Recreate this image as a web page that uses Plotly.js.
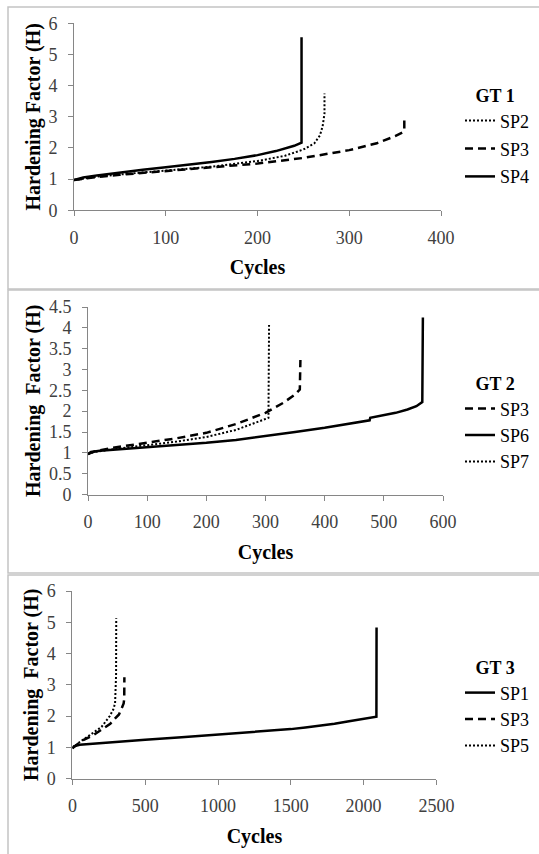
<!DOCTYPE html>
<html>
<head>
<meta charset="utf-8">
<script src="https://cdn.plot.ly/plotly-3.0.1.min.js"></script>
<style>
  html, body { margin: 0; padding: 0; background: #ffffff; }
  #chart { width: 539px; height: 854px; }
</style>
</head>
<body>
<div id="chart"></div>
<script>
// ---------- DATA ----------
// Panel GT 1
const gt1_sp2_cycles = [0, 25, 50, 100, 150, 200, 230, 250, 262, 268, 271, 273, 273];
const gt1_sp2_H      = [0.97, 1.08, 1.15, 1.27, 1.40, 1.58, 1.75, 1.95, 2.15, 2.40, 2.70, 3.10, 3.75];
const gt1_sp3_cycles = [0, 25, 50, 100, 150, 200, 250, 300, 330, 350, 358, 360, 360];
const gt1_sp3_H      = [0.97, 1.07, 1.14, 1.26, 1.37, 1.50, 1.68, 1.93, 2.15, 2.38, 2.50, 2.55, 3.02];
const gt1_sp4_cycles = [0, 10, 25, 50, 75, 100, 125, 150, 175, 200, 220, 240, 248, 248];
const gt1_sp4_H      = [0.97, 1.05, 1.12, 1.22, 1.30, 1.38, 1.46, 1.55, 1.65, 1.77, 1.90, 2.07, 2.17, 5.55];

// Panel GT 2
const gt2_sp3_cycles = [0, 10, 37, 100, 150, 200, 250, 300, 330, 350, 358, 359];
const gt2_sp3_H      = [0.97, 1.03, 1.11, 1.24, 1.35, 1.48, 1.69, 1.96, 2.20, 2.40, 2.52, 3.23];
const gt2_sp6_cycles = [0, 5, 20, 50, 100, 150, 200, 250, 300, 350, 400, 450, 476, 477, 500, 520, 540, 555, 565, 566];
const gt2_sp6_H      = [0.97, 1.02, 1.05, 1.08, 1.13, 1.18, 1.24, 1.31, 1.40, 1.50, 1.60, 1.71, 1.78, 1.84, 1.90, 1.96, 2.04, 2.12, 2.22, 4.25];
const gt2_sp7_cycles = [0, 10, 50, 100, 150, 200, 250, 290, 305, 306];
const gt2_sp7_H      = [0.97, 1.02, 1.10, 1.18, 1.27, 1.38, 1.55, 1.76, 1.84, 4.07];

// Panel GT 3
const gt3_sp1_cycles = [0, 10, 50, 200, 500, 750, 1000, 1250, 1500, 1600, 1700, 1800, 1900, 2000, 2088, 2089];
const gt3_sp1_H      = [0.97, 1.03, 1.08, 1.14, 1.24, 1.32, 1.40, 1.49, 1.58, 1.63, 1.68, 1.75, 1.83, 1.90, 1.98, 4.83];
const gt3_sp3_cycles = [0, 74, 144, 212, 260, 292, 320, 338, 352, 356, 357];
const gt3_sp3_H      = [0.97, 1.23, 1.39, 1.60, 1.75, 1.92, 2.05, 2.24, 2.40, 2.55, 3.24];
const gt3_sp5_cycles = [0, 50, 120, 200, 257, 280, 293, 298, 300, 301];
const gt3_sp5_H      = [0.97, 1.17, 1.39, 1.65, 2.00, 2.20, 2.40, 2.80, 3.30, 5.13];

// Axis tick settings
const gt1_xticks = [0, 100, 200, 300, 400];
const gt2_xticks = [0, 100, 200, 300, 400, 500, 600];
const gt3_xticks = [0, 500, 1000, 1500, 2000, 2500];
const gt1_yticks = [0, 1, 2, 3, 4, 5, 6];
const gt2_yticks = [0, 0.5, 1, 1.5, 2, 2.5, 3, 3.5, 4, 4.5];
const gt3_yticks = [0, 1, 2, 3, 4, 5, 6];

// ---------- STYLE ----------
const FONT = 'Liberation Serif';
const STY = {
  solid:  {dash: 'solid',   width: 2.5},
  dashed: {dash: '8px,5px', width: 2.5},
  dotted: {dash: '2px,2px', width: 2}
};
function tr(x, y, name, style, n, legend) {
  return {
    type: 'scatter', mode: 'lines', x: x, y: y, name: name,
    xaxis: n === 1 ? 'x' : 'x' + n, yaxis: n === 1 ? 'y' : 'y' + n,
    legend: legend, legendgroup: legend + name,
    line: {color: '#000000', width: STY[style].width, dash: STY[style].dash, shape: 'linear'},
    hoverinfo: 'skip'
  };
}

const data = [
  tr(gt1_sp2_cycles, gt1_sp2_H, 'SP2', 'dotted', 1, 'legend'),
  tr(gt1_sp3_cycles, gt1_sp3_H, 'SP3', 'dashed', 1, 'legend'),
  tr(gt1_sp4_cycles, gt1_sp4_H, 'SP4', 'solid', 1, 'legend'),
  tr(gt2_sp3_cycles, gt2_sp3_H, 'SP3', 'dashed', 2, 'legend2'),
  tr(gt2_sp6_cycles, gt2_sp6_H, 'SP6', 'solid', 2, 'legend2'),
  tr(gt2_sp7_cycles, gt2_sp7_H, 'SP7', 'dotted', 2, 'legend2'),
  tr(gt3_sp1_cycles, gt3_sp1_H, 'SP1', 'solid', 3, 'legend3'),
  tr(gt3_sp3_cycles, gt3_sp3_H, 'SP3', 'dashed', 3, 'legend3'),
  tr(gt3_sp5_cycles, gt3_sp5_H, 'SP5', 'dotted', 3, 'legend3')
];

const W = 539, H = 854;
const px = v => v / W;
const py = v => 1 - v / H;

function xAxis(domain, range, ticks, anchor) {
  return {
    domain: domain, range: range, anchor: anchor,
    tickmode: 'array', tickvals: ticks, ticktext: ticks.map(String),
    showline: true, linecolor: '#868686', linewidth: 1,
    ticks: 'outside', ticklen: 5, tickcolor: '#868686', tickwidth: 1,
    showgrid: false, zeroline: false, fixedrange: true,
    ticklabelstandoff: 6,
    tickfont: {family: FONT, size: 18, color: '#404040'},
    title: {text: '<b>Cycles</b>', font: {family: FONT, size: 20, color: '#000000'}, standoff: 13},
    automargin: false
  };
}
function yAxis(domain, range, ticks, anchor, title, standoff) {
  return {
    domain: domain, range: range, anchor: anchor,
    tickmode: 'array', tickvals: ticks, ticktext: ticks.map(String),
    showline: true, linecolor: '#868686', linewidth: 1,
    ticks: 'outside', ticklen: 5, tickcolor: '#868686', tickwidth: 1,
    showgrid: false, zeroline: false, fixedrange: true,
    ticklabelstandoff: 7,
    tickfont: {family: FONT, size: 18, color: '#404040'},
    title: {text: '<b>' + title + '</b>', font: {family: FONT, size: 20, color: '#000000'}, standoff: standoff},
    automargin: false
  };
}
function legendAt(x, y, title, gap) {
  return {
    x: x, y: y, xanchor: 'left', yanchor: 'top', xref: 'paper', yref: 'paper',
    bgcolor: 'rgba(0,0,0,0)', borderwidth: 0,
    traceorder: 'grouped', tracegroupgap: gap,
    font: {family: FONT, size: 18, color: '#000000'},
    title: {text: '<b>\u00a0\u00a0\u00a0' + title + '</b>', side: 'top', font: {family: FONT, size: 18, color: '#000000'}}
  };
}
function panelBox(top, bottom) {
  return {type: 'rect', xref: 'paper', yref: 'paper', x0: px(8), x1: px(560), y0: py(bottom), y1: py(top),
          line: {color: '#c3c3c3', width: 1.5}, fillcolor: 'rgba(0,0,0,0)', layer: 'below'};
}

const layout = {
  width: W, height: H,
  margin: {l: 0, r: 0, t: 0, b: 0, pad: 0},
  paper_bgcolor: '#ffffff', plot_bgcolor: '#ffffff',
  font: {family: FONT, color: '#000000'},
  xaxis:  xAxis([px(74), px(441)], [0, 400], gt1_xticks, 'y'),
  yaxis:  yAxis([py(210.3), py(23.3)], [0, 6], gt1_yticks, 'x', 'Hardening Factor (H)', 2),
  xaxis2: xAxis([px(88), px(443)], [0, 600], gt2_xticks, 'y2'),
  yaxis2: yAxis([py(494.5), py(307)], [0, 4.5], gt2_yticks, 'x2', 'Hardening\u00a0 Factor (H)', 2),
  xaxis3: xAxis([px(72.4), px(436.4)], [0, 2500], gt3_xticks, 'y3'),
  yaxis3: yAxis([py(778.5), py(591)], [0, 6], gt3_yticks, 'x3', 'Hardening\u00a0 Factor (H)', 2),
  legend:  legendAt(px(460), py(79), 'GT 1', 1.5),
  legend2: legendAt(px(460), py(367), 'GT 2', 0),
  legend3: legendAt(px(460), py(651), 'GT 3', 0),
  shapes: [panelBox(7, 289), panelBox(290, 573), panelBox(575, 870)],
  showlegend: true
};

Plotly.newPlot('chart', data, layout, {staticPlot: true, displayModeBar: false});
</script>
</body>
</html>
